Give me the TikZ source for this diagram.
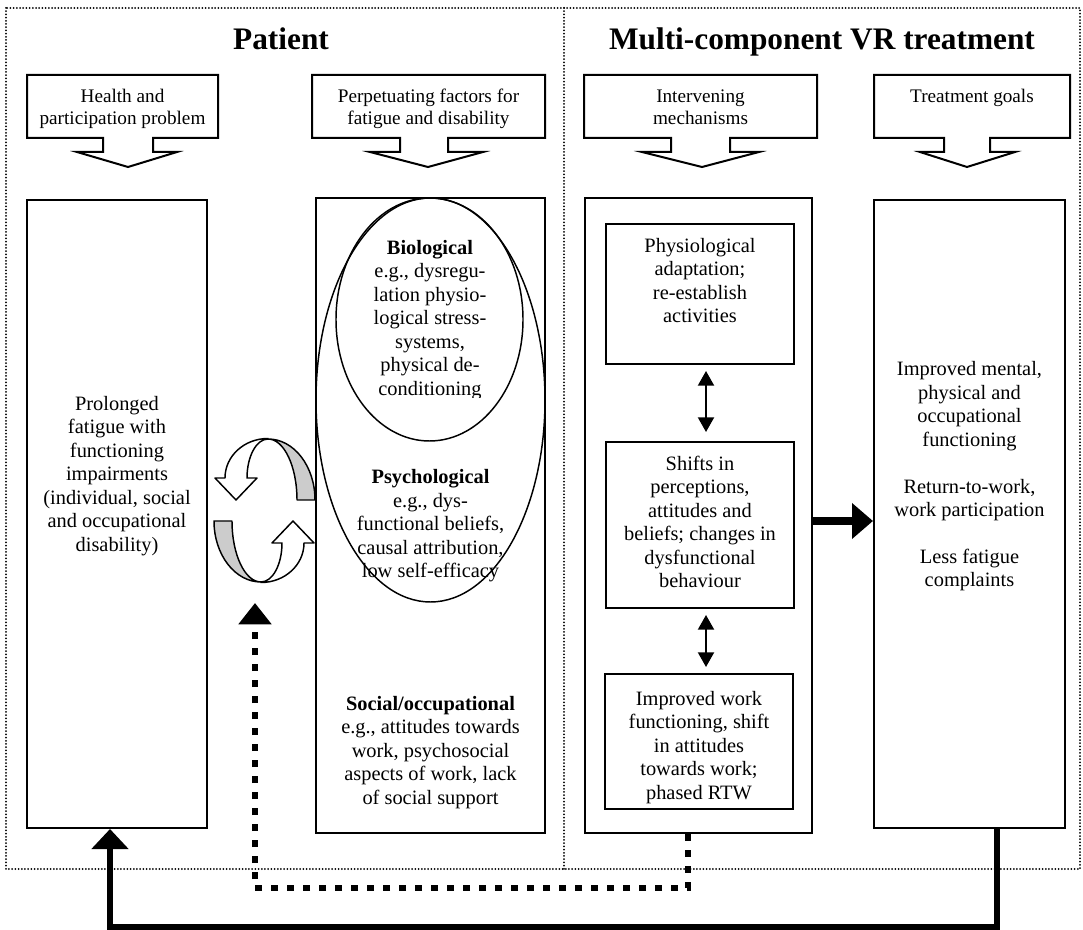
\documentclass[tikz,border=0pt]{standalone}
\usepackage{fontspec}
\setmainfont{Liberation Serif}
\usetikzlibrary{arrows.meta,shapes.geometric}
\begin{document}
\begin{tikzpicture}[x=0.75pt,y=-0.75pt,
  box/.style={draw,line width=1.5pt,inner sep=0pt},
  oval/.style={draw,ellipse,line width=1.1pt,inner sep=0pt},
  txt/.style={align=center,inner sep=0pt,anchor=north,font=\fontsize{15.3}{17.6}\selectfont},
  hdrtxt/.style={align=center,inner sep=0pt,anchor=north,font=\fontsize{14.4}{16.5}\selectfont},
  titletxt/.style={inner sep=0pt,anchor=base,font=\fontsize{23.5}{28}\selectfont\bfseries},
  framedots/.style={line width=1.5pt,dash pattern=on 0pt off 2.4pt,line cap=round},
  callout/.style={draw,line width=1.5pt,line join=miter},
  ring/.style={draw,line width=1.1pt,line join=round},
  dbl/.style={{Triangle[length=11pt,width=12pt]}-{Triangle[length=11pt,width=12pt]},line width=1.5pt},
  bigarrow/.style={-{Triangle[length=15.75pt,width=26pt]},line width=6pt},
  solidfb/.style={-{Triangle[length=15pt,width=27pt]},line width=4.5pt,line join=miter},
  dotfb/.style={-{Triangle[length=16pt,width=24pt]},line width=5pt,dash pattern=on 4.9pt off 7.1pt,line join=miter}
]
\useasboundingbox (0,0) rectangle (1083,930);

% outer dotted frame and divider
\draw[framedots] (6,8) rectangle (1080,869);
\draw[framedots] (564,8) -- (564,869);

% titles
\node[titletxt] (tP) at (281,49.5) {Patient};
\node[titletxt] (tM) at (822,49.5) {Multi-component VR treatment};

% header callouts
\draw[callout] (27,75) -- (218,75) -- (218,138) -- (153,138) -- (153,152) -- (177,152) -- (128,167) -- (77,152) -- (103,152) -- (103,138) -- (27,138) -- cycle;
\draw[callout] (312,75) -- (545,75) -- (545,138) -- (448,138) -- (448,152) -- (483,152) -- (428,167) -- (370,152) -- (400,152) -- (400,138) -- (312,138) -- cycle;
\draw[callout] (584,75) -- (817,75) -- (817,138) -- (730,138) -- (730,152) -- (759,152) -- (702,167) -- (642,152) -- (671,152) -- (671,138) -- (584,138) -- cycle;
\draw[callout] (874,75) -- (1070,75) -- (1070,138) -- (990,138) -- (990,152) -- (1015,152) -- (967,167) -- (920,152) -- (944,152) -- (944,138) -- (874,138) -- cycle;
\node[hdrtxt] (h1) at (122.5,87) {\strut Health and\\participation problem};
\node[hdrtxt] (h2) at (428.5,87) {\strut Perpetuating factors for\\fatigue and disability};
\node[hdrtxt] (h3) at (700.5,87) {\strut Intervening\\mechanisms};
\node[hdrtxt] (h4) at (972,87) {\strut Treatment goals};

% main boxes
\node[box,minimum width=135pt,minimum height=471pt] (A) at (117,514) {};
\node[box,minimum width=171.75pt,minimum height=476.25pt] (B) at (430.5,515.5) {};
\node[box,minimum width=170.25pt,minimum height=476.25pt] (C) at (698.5,515.5) {};
\node[box,minimum width=143.25pt,minimum height=471pt] (D) at (969.5,514) {};

% ellipses in B
\node[oval,minimum width=140.25pt,minimum height=182.25pt] (bio) at (429.5,319.5) {};
\node[oval,minimum width=171.75pt,minimum height=303pt] (psy) at (430.5,400) {};

% inner boxes in C
\node[box,minimum width=141pt,minimum height=105pt] (C1) at (700,294) {};
\node[box,minimum width=141pt,minimum height=124.5pt] (C2) at (700,525) {};
\node[box,minimum width=141pt,minimum height=101.25pt] (C3) at (699,741.5) {};

% texts
\node[txt] (tA) at (117,393.6) {\strut Prolonged\\fatigue with\\functioning\\impairments\\(individual, social\\and occupational\\disability)};
\begin{scope}
\clip (316,198) rectangle (545,398);
\node[txt] (tBio) at (430,237.6) {\strut\textbf{Biological}\\e.g., dysregu-\\lation physio-\\logical stress-\\systems,\\physical de-\\conditioning};
\end{scope}
\node[txt] (tPsy) at (430.5,467) {\strut\textbf{Psychological}\\e.g., dys-\\functional beliefs,\\causal attribution,\\low self-efficacy};
\node[txt] (tSoc) at (430.5,693.6) {\strut\textbf{Social/occupational}\\e.g., attitudes towards\\work, psychosocial\\aspects of work, lack\\of social support};
\node[txt] (tC1) at (700,235.6) {\strut Physiological\\adaptation;\\re-establish\\activities};
\node[txt] (tC2) at (700,453.6) {\strut Shifts in\\perceptions,\\attitudes and\\beliefs; changes in\\dysfunctional\\behaviour};
\node[txt] (tC3) at (699,688.6) {\strut Improved work\\functioning, shift\\in attitudes\\towards work;\\phased RTW};
\node[txt] (tD) at (969.5,359) {\strut Improved mental,\\physical and\\occupational\\functioning\\[17.6pt]Return-to-work,\\work participation\\[17.6pt]Less fatigue\\complaints};

% double arrows in C
\coordinate (da) at (706,0);
\draw[dbl,shorten <=4.5pt,shorten >=6.75pt] (C1.south -| da) -- (C2.north -| da);
\draw[dbl,shorten <=4.5pt,shorten >=4.5pt] (C2.south -| da) -- (C3.north -| da);

% C -> D thick arrow
\coordinate (arr) at (0,521);
\draw[bigarrow] (C.east |- arr) -- (D.west |- arr);

% cycle arrows
\filldraw[ring,fill=gray!40] (268,439) .. controls (294,439) and (315,466.3) .. (315,500) -- (297,500) .. controls (297,466.3) and (284,439) .. (268,439) -- cycle;
\filldraw[ring,fill=white] (268,438.5) .. controls (244.3,438.5) and (225,456) .. (225,478) -- (215,478) -- (236,500) -- (257,478) -- (247,478) .. controls (247,456.5) and (256.4,439) .. (268,439) -- cycle;
\begin{scope}[rotate around={180:(264.5,510.5)}]
\filldraw[ring,fill=gray!40] (268,439) .. controls (294,439) and (315,466.3) .. (315,500) -- (297,500) .. controls (297,466.3) and (284,439) .. (268,439) -- cycle;
\filldraw[ring,fill=white] (268,438.5) .. controls (244.3,438.5) and (225,456) .. (225,478) -- (215,478) -- (236,500) -- (257,478) -- (247,478) .. controls (247,456.5) and (256.4,439) .. (268,439) -- cycle;
\end{scope}

% feedback loops
\coordinate (fbx) at (997,927);
\coordinate (fbA) at (110,927);
\draw[solidfb] (D.south -| fbx) -- (fbx) -- (fbA) -- (A.south -| fbA);
\coordinate (dC) at (688,888);
\coordinate (dL) at (255,888);
\coordinate (dtip) at (255,603);
\draw[dotfb] (C.south -| dC) -- (dC) -- (dL) -- (dtip);
\end{tikzpicture}
\end{document}
